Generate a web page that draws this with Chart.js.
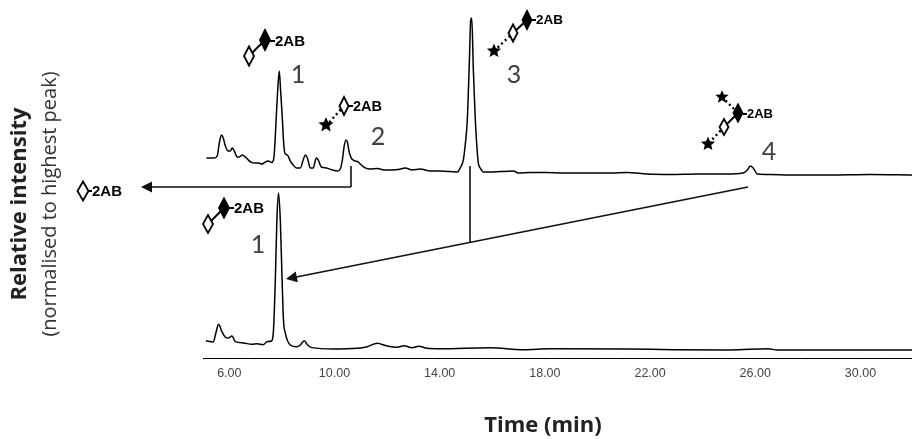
<!DOCTYPE html>
<html>
<head>
<meta charset="utf-8">
<script src="https://cdn.jsdelivr.net/npm/chart.js@4/dist/chart.umd.min.js"></script>
<style>
    html, body { margin: 0; padding: 0; background: #fff; }
    #wrap { position: relative; width: 912px; height: 439px; }
</style>
</head>
<body>
<div id="wrap"><canvas id="chart"></canvas></div>
<script>
var tickLabels = ['6.00', '10.00', '14.00', '18.00', '22.00', '26.00', '30.00'];

// upper trace, time in minutes
var upperTimes = [5.13, 5.43, 5.54, 5.62, 5.70, 5.77, 5.85, 5.96, 6.04, 6.11, 6.19, 6.30, 6.38, 6.49, 6.61, 6.72, 6.84, 6.99, 7.10, 7.25, 7.37, 7.48, 7.60, 7.68, 7.72, 7.79, 7.84, 7.90, 7.95, 8.01, 8.06, 8.11, 8.21, 8.32, 8.43, 8.55, 8.70, 8.81, 8.89, 8.97, 9.08, 9.19, 9.31, 9.38, 9.50, 9.69, 9.92, 10.11, 10.22, 10.30, 10.37, 10.44, 10.49, 10.56, 10.64, 10.75, 10.90, 11.02, 11.17, 11.36, 11.63, 11.89, 12.20, 12.43, 12.69, 12.96, 13.26, 13.64, 14.02, 14.40, 14.67, 14.78, 14.90, 14.97, 15.05, 15.13, 15.18, 15.22, 15.28, 15.35, 15.41, 15.47, 15.54, 15.66, 15.92, 16.30, 16.80, 16.99, 17.45, 18.02, 18.70, 19.73, 20.49, 21.13, 21.89, 22.77, 23.79, 24.86, 25.54, 25.70, 25.81, 25.92, 26.08, 26.57, 27.33, 28.85, 30.37, 31.96];
var upperValues = [10.8, 10.8, 12.1, 20.4, 25.5, 23.6, 18.5, 15.3, 15.3, 17.2, 15.3, 11.5, 11.5, 12.7, 11.5, 9.6, 8.0, 7.6, 7.6, 7.0, 8.3, 8.9, 8.0, 9.6, 15.9, 38.2, 54, 66.2, 54, 38.2, 22.3, 14, 12.7, 8.9, 6.4, 4.5, 4.5, 9.6, 12.7, 10.8, 4.5, 4.5, 10.8, 9.6, 5.1, 4.5, 3.2, 2.5, 3.8, 9.6, 18.5, 22.3, 21, 14.6, 10.8, 9.2, 8.3, 6.4, 4.5, 3.8, 4.1, 3.2, 3.2, 3.5, 4.5, 3.2, 3.8, 2.5, 2.5, 2.2, 1.9, 4.5, 9.6, 19.1, 35, 73.2, 98.7, 100, 66.9, 36.9, 19.1, 7.6, 4.5, 1.9, 1.9, 2.2, 2.5, 1.3, 1.6, 1.6, 1.3, 1.3, 1.3, 1.6, 0.6, 0.3, 0.6, 0.6, 1.3, 3.2, 5.7, 4.5, 0.6, 0.3, 0, 0, 0.3, 0];

// lower trace
var lowerTimes = [5.11, 5.39, 5.49, 5.59, 5.72, 5.85, 5.96, 6.10, 6.23, 6.53, 6.86, 7.05, 7.30, 7.43, 7.60, 7.68, 7.75, 7.81, 7.87, 7.94, 8.00, 8.06, 8.13, 8.32, 8.57, 8.70, 8.85, 8.98, 9.14, 9.95, 10.86, 11.24, 11.62, 12.00, 12.38, 12.65, 12.95, 13.20, 13.52, 14.02, 15.92, 17.18, 18.20, 21.13, 22.88, 25.05, 26.49, 26.84, 31.96];
var lowerValues = [5.9, 5.1, 10.8, 16.4, 11.7, 8.1, 7.6, 8.9, 5.3, 4.5, 3.6, 4.0, 3.4, 5.3, 5.7, 12.7, 44.6, 82.8, 100, 82.8, 49, 19.1, 10.8, 3.2, 2.1, 3.2, 5.9, 3.2, 1.5, 0.6, 1.1, 2.1, 4.3, 2.5, 1.7, 2.7, 1.5, 2.4, 1.1, 0.8, 1.5, 0.2, 0.8, 0.6, 0.2, 0, 0.8, 0, 0];

function toPoints(times, values) {
    return times.map(function(t, i) { return {x: t, y: values[i]}; });
}

// glycan cartoons and peak labels, not data
function diamond(ctx, x, y, w, h, filled) {
    ctx.beginPath();
    ctx.moveTo(x, y - h / 2);
    ctx.lineTo(x + w / 2, y);
    ctx.lineTo(x, y + h / 2);
    ctx.lineTo(x - w / 2, y);
    ctx.closePath();
    ctx.fillStyle = filled ? '#000' : '#fff';
    ctx.fill();
    ctx.lineWidth = 1.8;
    ctx.strokeStyle = '#000';
    ctx.stroke();
}

function star(ctx, x, y, r) {
    ctx.beginPath();
    for (var i = 0; i < 10; i++) {
        var a = -Math.PI / 2 + i * Math.PI / 5;
        var rr = i % 2 ? r * 0.45 : r;
        ctx.lineTo(x + rr * Math.cos(a), y + rr * Math.sin(a));
    }
    ctx.closePath();
    ctx.fillStyle = '#000';
    ctx.fill();
}

function bond(ctx, a, b, dotted) {
    ctx.beginPath();
    ctx.setLineDash(dotted ? [2, 3] : []);
    ctx.lineWidth = dotted ? 2.4 : 2;
    ctx.strokeStyle = '#000';
    ctx.moveTo(a[0], a[1]);
    ctx.lineTo(b[0], b[1]);
    ctx.stroke();
    ctx.setLineDash([]);
}

function tag(ctx, x, y, size, lineFrom) {
    bond(ctx, [lineFrom, y], [x, y], false);
    ctx.font = 'bold ' + size + 'px "Liberation Sans"';
    ctx.fillStyle = '#000';
    ctx.textAlign = 'left';
    ctx.textBaseline = 'middle';
    ctx.fillText('2AB', x, y + 0.5);
}

function arrow(ctx, from, to) {
    var ang = Math.atan2(to[1] - from[1], to[0] - from[0]);
    ctx.beginPath();
    ctx.lineWidth = 1.6;
    ctx.strokeStyle = '#111';
    ctx.moveTo(from[0], from[1]);
    ctx.lineTo(to[0] - 8 * Math.cos(ang), to[1] - 8 * Math.sin(ang));
    ctx.stroke();
    ctx.save();
    ctx.translate(to[0], to[1]);
    ctx.rotate(ang);
    ctx.beginPath();
    ctx.moveTo(0, 0);
    ctx.lineTo(-11, -5.5);
    ctx.lineTo(-11, 5.5);
    ctx.closePath();
    ctx.fillStyle = '#111';
    ctx.fill();
    ctx.restore();
}

var annotations = {
    id: 'annotations',
    afterDraw: function(chart) {
        var ctx = chart.ctx;
        ctx.save();

        // connectors between the traces
        ctx.beginPath();
        ctx.lineWidth = 1.6;
        ctx.strokeStyle = '#111';
        ctx.moveTo(351, 166);
        ctx.lineTo(351, 187);
        ctx.moveTo(470, 166);
        ctx.lineTo(470, 243);
        ctx.stroke();
        arrow(ctx, [351, 187], [141, 187]);
        arrow(ctx, [748, 187], [286, 279]);

        // peak 1, upper
        bond(ctx, [249, 56], [265, 40], false);
        diamond(ctx, 249, 56, 10, 19, false);
        diamond(ctx, 265, 40, 10, 20, true);
        tag(ctx, 275, 41, 15, 268);

        // peak 2
        bond(ctx, [326, 126], [344, 106], true);
        star(ctx, 326, 125, 8);
        diamond(ctx, 344, 106, 9, 18, false);
        tag(ctx, 353, 106, 14.5, 348);

        // peak 3
        bond(ctx, [494, 51], [513, 33], true);
        bond(ctx, [513, 33], [527, 20], false);
        star(ctx, 494, 51, 7.5);
        diamond(ctx, 513, 33, 9, 17, false);
        diamond(ctx, 527, 20, 9, 18, true);
        tag(ctx, 536, 20, 13.5, 530);

        // peak 4
        bond(ctx, [722, 97], [738, 113], true);
        bond(ctx, [738, 113], [724, 127], false);
        bond(ctx, [724, 127], [708, 144], true);
        star(ctx, 722, 97, 7);
        star(ctx, 708, 144, 7.5);
        diamond(ctx, 724, 127, 9, 16, false);
        diamond(ctx, 738, 113, 9, 17, true);
        tag(ctx, 747, 114, 13, 741);

        // peak 1, lower
        bond(ctx, [208, 224], [224, 208], false);
        diamond(ctx, 208, 224, 10, 18, false);
        diamond(ctx, 224, 208, 10, 19, true);
        tag(ctx, 234, 208, 15, 228);

        // released product on the left
        diamond(ctx, 83, 191, 11, 19, false);
        tag(ctx, 92, 191, 15, 88);

        // peak numbers
        ctx.font = '25px Lato';
        ctx.fillStyle = '#404040';
        ctx.textAlign = 'center';
        ctx.textBaseline = 'middle';
        ctx.fillText('1', 298, 75);
        ctx.fillText('2', 378, 137);
        ctx.fillText('3', 514, 75);
        ctx.fillText('4', 769, 152);
        ctx.fillText('1', 258, 245);

        // axis titles
        ctx.fillStyle = '#222';
        ctx.font = 'bold 22px "Open Sans"';
        ctx.fillText('Time (min)', 543, 426);
        ctx.translate(20, 204);
        ctx.rotate(-Math.PI / 2);
        ctx.font = 'bold 22px "Open Sans"';
        ctx.fillText('Relative intensity', 0, 0);
        ctx.font = '20px "Open Sans"';
        ctx.fillStyle = '#333';
        ctx.fillText('(normalised to highest peak)', 0, 30);

        ctx.restore();
    }
};

new Chart(document.getElementById('chart').getContext('2d'), {
    type: 'line',
    data: {
        datasets: [{
            data: toPoints(upperTimes, upperValues),
            yAxisID: 'yUpper',
            borderColor: '#000',
            borderWidth: 1.5,
            pointRadius: 0,
            cubicInterpolationMode: 'monotone'
        }, {
            data: toPoints(lowerTimes, lowerValues),
            yAxisID: 'yLower',
            borderColor: '#000',
            borderWidth: 1.5,
            pointRadius: 0,
            cubicInterpolationMode: 'monotone'
        }]
    },
    options: {
        responsive: true,
        maintainAspectRatio: false,
        animation: false,
        layout: {padding: {left: 203, right: 0, top: 8, bottom: 0}},
        plugins: {legend: {display: false}, tooltip: {enabled: false}},
        scales: {
            x: {
                type: 'linear',
                min: 5,
                max: 31.96,
                afterFit: function(scale) { scale.height = 81; },
                border: {color: '#000', width: 1},
                grid: {drawOnChartArea: false, tickLength: 2, tickColor: '#ddd'},
                ticks: {
                    stepSize: 1,
                    autoSkip: false,
                    includeBounds: false,
                    maxRotation: 0,
                    padding: 6,
                    color: '#444',
                    font: {family: '"Liberation Sans"', size: 12.5},
                    callback: function(value) {
                        var i = (value - 6) / 4;
                        return i >= 0 && i === Math.floor(i) ? tickLabels[i] : '';
                    }
                }
            },
            // both traces share the normalised 0-100 range, each on its own band
            yUpper: {display: false, min: -116.6, max: 106.4},
            yLower: {display: false, min: -5.1, max: 217.8}
        }
    },
    plugins: [annotations]
});
</script>
</body>
</html>
